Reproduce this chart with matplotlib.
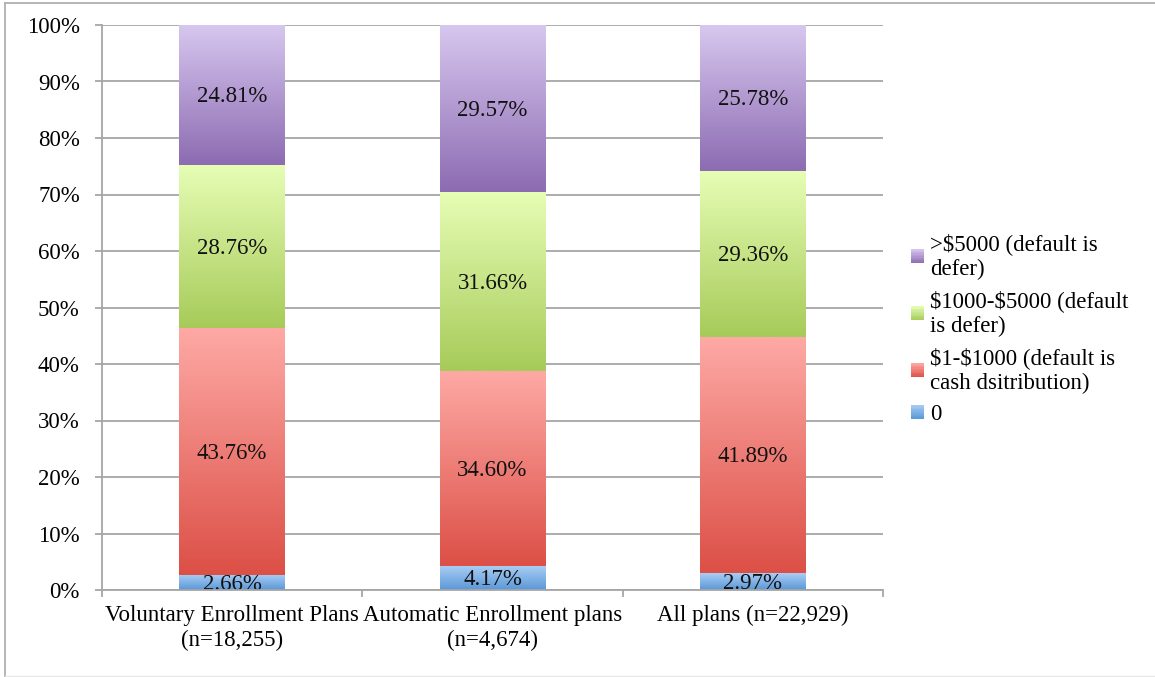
import numpy as np
import matplotlib
matplotlib.use("Agg")
import matplotlib.pyplot as plt
from matplotlib.colors import to_rgb
from matplotlib.patches import Rectangle
from matplotlib.lines import Line2D
from matplotlib.legend_handler import HandlerBase

plt.rcParams['font.family'] = ['Liberation Serif', 'DejaVu Serif']

categories = ["Voluntary Enrollment Plans\n(n=18,255)",
              "Automatic Enrollment plans\n(n=4,674)",
              "All plans (n=22,929)"]
series_names = ["0",
                "\\$1-\\$1000 (default is\ncash dsitribution)",
                "\\$1000-\\$5000 (default\nis defer)",
                ">\\$5000 (default is\ndefer)"]
zero_vals = [2.66, 4.17, 2.97]
small_vals = [43.76, 34.60, 41.89]
mid_vals = [28.76, 31.66, 29.36]
large_vals = [24.81, 29.57, 25.78]
series_vals = [zero_vals, small_vals, mid_vals, large_vals]
yticks = [0, 10, 20, 30, 40, 50, 60, 70, 80, 90, 100]

# (top colour, bottom colour) for each series gradient
gradients = [("#a9cdf4", "#5a98d8"),
             ("#fea9a5", "#dc5047"),
             ("#e6fdb4", "#a7cb5a"),
             ("#d7c7ef", "#8d6cb2")]

FS = 16.5


def blend(c_top, c_bot, t):
    a, b = np.array(to_rgb(c_top)), np.array(to_rgb(c_bot))
    return a * (1 - t) + b * t


class GradientSwatch:
    def __init__(self, c_top, c_bot):
        self.c_top, self.c_bot = c_top, c_bot


class HandlerGradient(HandlerBase):
    def create_artists(self, legend, orig_handle, xdescent, ydescent,
                       width, height, fontsize, trans):
        n = 10
        strips = []
        for i in range(n):
            t = (i + 0.5) / n
            y = -ydescent + height * (1 - (i + 1) / n)
            strips.append(Rectangle((-xdescent, y), width, height / n + 0.05,
                                    facecolor=blend(orig_handle.c_top, orig_handle.c_bot, t),
                                    edgecolor="none", transform=trans))
        return strips


fig = plt.figure(figsize=(11.55, 6.77), dpi=100)
ax = fig.add_axes([102/1155, 87/677, (883-102)/1155, (590-25)/677])

x = np.arange(len(categories))
grid_c = "#a6a6a6"
bottom = np.zeros(len(categories))
for vals, name, (ctop, cbot) in zip(series_vals, series_names, gradients):
    bars = ax.bar(x, vals, width=0.405, bottom=bottom, facecolor="none",
                  edgecolor="none", label=name, zorder=3)
    t = np.linspace(0, 1, 64)[:, None]
    grad = blend(ctop, cbot, t)[:, None, :]
    for patch, v, b in zip(bars.patches, vals, bottom):
        x0, y0 = patch.get_x(), patch.get_y()
        w, h = patch.get_width(), patch.get_height()
        im = ax.imshow(grad, extent=(x0, x0 + w, y0, y0 + h), aspect="auto",
                       origin="upper", zorder=2.5, interpolation="bilinear")
        im.set_clip_path(patch)
        ax.text(x0 + w / 2, b + v / 2 - 0.3, f"{v:.2f}%", ha="center", va="center",
                fontsize=FS, color="#111111", zorder=4, clip_on=True)
    bottom = bottom + np.array(vals)

ax.set_xlim(-0.5, len(categories) - 0.5)
ax.set_ylim(0, 100)
ax.set_yticks(yticks)
ax.set_yticklabels([f"{v}%" for v in yticks], fontsize=FS)
ax.set_xticks(x)
ax.set_xticklabels(categories, fontsize=FS, linespacing=1.22)
ax.tick_params(axis="x", length=0, pad=11)
ax.tick_params(axis="y", length=5, color=grid_c, width=1.3, pad=11)
ax.set_xticks([-0.5, 0.5, 1.5, 2.5], minor=True)
ax.tick_params(axis="x", which="minor", length=5, color=grid_c, width=1.3)
ax.yaxis.grid(True, color=grid_c, linewidth=1.3)
ax.set_axisbelow(True)
for s in ["top", "right"]:
    ax.spines[s].set_visible(False)
for s in ["left", "bottom"]:
    ax.spines[s].set_color(grid_c)
    ax.spines[s].set_linewidth(1.3)
    ax.spines[s].set_zorder(5)

swatches = [GradientSwatch(c_top, c_bot) for (c_top, c_bot) in gradients]
leg = fig.legend(swatches[::-1], series_names[::-1], loc="center left",
                 bbox_to_anchor=(911/1155, 1 - 329/677), frameon=False,
                 fontsize=FS, handlelength=0.55, handleheight=0.55,
                 handletextpad=0.3, labelspacing=0.45, borderaxespad=0,
                 borderpad=0, handler_map={GradientSwatch: HandlerGradient()})
for txt in leg.get_texts():
    txt.set_linespacing(1.22)

# outer frame of the chart area
frame_c = "#b0b0b0"
fig.add_artist(Line2D([5/1155, 5/1155], [0, 1 - 3/677], transform=fig.transFigure,
                      color=frame_c, linewidth=1.3))
fig.add_artist(Line2D([5/1155, 1], [1 - 3/677, 1 - 3/677], transform=fig.transFigure,
                      color=frame_c, linewidth=1.3))
fig.add_artist(Line2D([5/1155, 1], [1/677, 1/677], transform=fig.transFigure,
                      color="#e6e6e6", linewidth=1.0))

fig.savefig("out.png", dpi=100)
